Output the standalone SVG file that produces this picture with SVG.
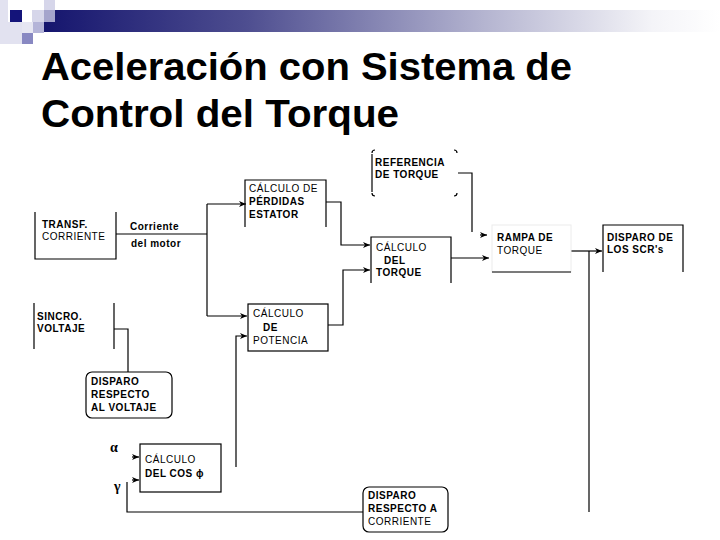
<svg xmlns="http://www.w3.org/2000/svg" width="720" height="540" viewBox="0 0 720 540">
<defs>
<linearGradient id="bar" x1="0" y1="0" x2="1" y2="0">
<stop offset="0" stop-color="#15156e"/>
<stop offset="0.3" stop-color="#4e4e90"/>
<stop offset="0.65" stop-color="#b4b4d0"/>
<stop offset="0.9" stop-color="#f4f4f8"/>
<stop offset="1" stop-color="#ffffff"/>
</linearGradient>
<marker id="ah" markerWidth="8" markerHeight="6" refX="7" refY="3" orient="auto" markerUnits="userSpaceOnUse">
<path d="M0,0 L7,3 L0,6 L2,3 z" fill="#000"/>
</marker>
<style>
.ln{fill:none;stroke:#000;stroke-width:1.2}
.bx{fill:none;stroke:#000;stroke-width:1.2}
.arr{fill:none;stroke:#000;stroke-width:1.2;marker-end:url(#ah)}
text{font-family:"Liberation Sans",Arial,sans-serif;font-size:10px;letter-spacing:0.5px;fill:#000}
.b{font-weight:bold}
.title{font-family:"Liberation Sans",Arial,sans-serif;font-size:39px;font-weight:bold;letter-spacing:0}
.gk{font-family:"Liberation Serif","Times New Roman",serif;font-size:14px;font-weight:bold;letter-spacing:0}
</style>
</defs>
<rect width="720" height="540" fill="#fff"/>
<g id="decoration">
<rect x="44" y="10" width="676" height="22" fill="url(#bar)"/>
<rect x="0" y="0" width="8" height="44" fill="#e2e2f0"/>
<rect x="0" y="22" width="22" height="22" fill="#e2e2f0"/>
<rect x="10" y="10" width="12" height="12" fill="#14147a"/>
<rect x="32" y="10" width="12" height="12" fill="#d6d6ea"/>
<rect x="44" y="0" width="11" height="10" fill="#d6d6ea"/>
<rect x="44" y="10" width="11" height="12" fill="#a4a4cc"/>
<rect x="22" y="22" width="11" height="11" fill="#e6e6f2"/>
<rect x="33" y="22" width="11" height="11" fill="#b4b4d8"/>
<rect x="22" y="33" width="11" height="11" fill="#8888c2"/>
</g>
<g id="title">
<text class="title" x="41" y="80" textLength="531" lengthAdjust="spacingAndGlyphs">Aceleración con Sistema de</text>
<text class="title" x="41" y="127" textLength="358" lengthAdjust="spacingAndGlyphs">Control del Torque</text>
</g>
<g id="connectors">
<path class="ln" d="M116,234 H207"/>
<path class="ln" d="M207,204 V316"/>
<path class="arr" d="M207,204 H246"/>
<path class="arr" d="M207,316 H247"/>
<path class="arr" d="M326,202 H341 V245 H370"/>
<path class="arr" d="M328,325 H343 V270 H370"/>
<path class="arr" d="M236,467 V336 H247"/>
<path class="ln" d="M114,329 H128 V372"/>
<path class="ln" d="M458,173 H472 V232"/>
<path class="arr" d="M480,235 H487"/>
<path class="arr" d="M451,258 H489"/>
<path class="arr" d="M571,251 H602"/>
<path class="ln" d="M589,251 V512"/>
<path class="arr" d="M132,457 H139"/>
<path class="arr" d="M132,480 H139"/>
<path class="ln" d="M127,482 V512 H363"/>
</g>
<g id="transf">
<path class="bx" d="M35,212 V259 H116 V212"/>
<text class="b" x="42" y="228">TRANSF.</text>
<text x="42" y="240">CORRIENTE</text>
</g>
<g id="corriente-label">
<text class="b" x="130" y="230">Corriente</text>
<text class="b" x="131" y="247">del motor</text>
</g>
<g id="perdidas">
<path class="bx" d="M245,227 V180 H326 V227"/>
<text x="249" y="192">CÁLCULO DE</text>
<text class="b" x="249" y="205">PÉRDIDAS</text>
<text class="b" x="249" y="218">ESTATOR</text>
</g>
<g id="potencia">
<rect class="bx" x="248" y="304" width="80" height="47"/>
<text x="253" y="317">CÁLCULO</text>
<text class="b" x="263" y="331">DE</text>
<text x="253" y="344">POTENCIA</text>
</g>
<g id="sincro">
<path class="bx" d="M34,303 V349 M114,303 V349"/>
<text class="b" x="37" y="320">SINCRO.</text>
<text class="b" x="37" y="332">VOLTAJE</text>
</g>
<g id="disparo-voltaje">
<rect class="bx" x="86" y="372" width="86" height="46" rx="6"/>
<text class="b" x="91" y="385">DISPARO</text>
<text class="b" x="91" y="398">RESPECTO</text>
<text class="b" x="91" y="411">AL VOLTAJE</text>
</g>
<g id="greek">
<text class="gk" x="110" y="452">α</text>
<text class="gk" x="114" y="491">γ</text>
</g>
<g id="cos">
<rect class="bx" x="140" y="444" width="81" height="48"/>
<text x="145" y="463">CÁLCULO</text>
<text class="b" x="145" y="477">DEL COS ϕ</text>
</g>
<g id="disparo-corriente">
<rect class="bx" x="363" y="487" width="85" height="45" rx="6"/>
<text class="b" x="368" y="499">DISPARO</text>
<text class="b" x="368" y="512">RESPECTO A</text>
<text x="368" y="525">CORRIENTE</text>
</g>
<g id="referencia">
<path class="bx" d="M372,154 V192"/>
<path class="ln" d="M372,153 Q372,150 375,150 M454,150 Q457,150 457,153 M372,193 Q372,196 375,196 M454,196 Q457,196 457,193" stroke-width="0.8"/>
<text class="b" x="375" y="166">REFERENCIA</text>
<text class="b" x="375" y="178">DE TORQUE</text>
</g>
<g id="torque">
<path class="bx" d="M371,283 V237 H451 V283"/>
<text x="376" y="251">CÁLCULO</text>
<text class="b" x="384" y="264">DEL</text>
<text class="b" x="376" y="276">TORQUE</text>
</g>
<g id="rampa">
<rect x="492" y="225" width="79" height="47" fill="none" stroke="#ececec" stroke-width="1"/>
<path class="bx" d="M492,272 H571"/>
<text class="b" x="497" y="241">RAMPA DE</text>
<text x="497" y="254">TORQUE</text>
</g>
<g id="scr">
<path class="bx" d="M603,272 V225 H683 V272"/>
<text class="b" x="607" y="241">DISPARO DE</text>
<text class="b" x="607" y="253">LOS SCR's</text>
</g>
</svg>
